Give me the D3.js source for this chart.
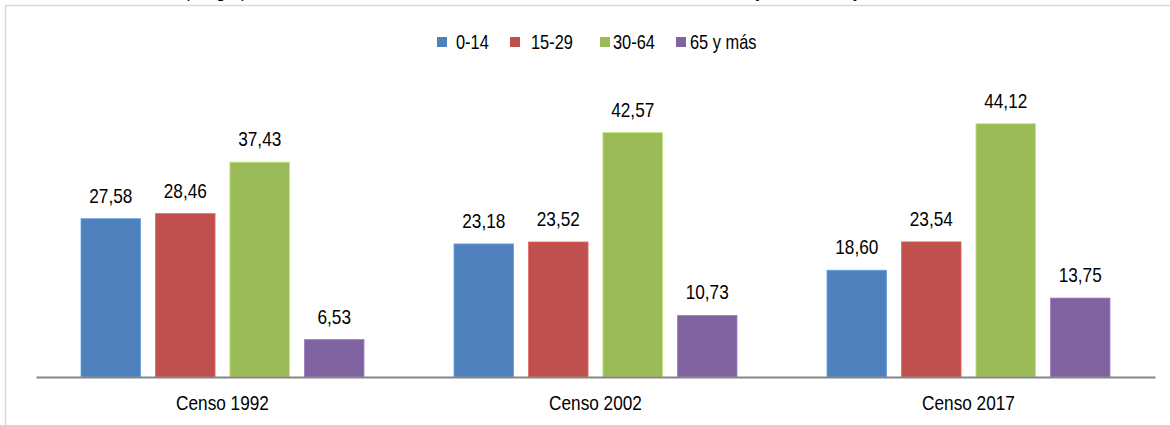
<!DOCTYPE html>
<html>
<head>
<meta charset="utf-8">
<script src="https://cdn.jsdelivr.net/npm/d3@7"></script>
<style>
  body { margin: 0; background: #fff; }
  svg { display: block; }
  text { font-family: "Liberation Sans", Arial, sans-serif; }
</style>
</head>
<body>
<div id="chart"></div>
<script>
// Data
var censos = ["Censo 1992", "Censo 2002", "Censo 2017"];
var grupos = ["0-14", "15-29", "30-64", "65 y más"];
var valores0a14 = [27.58, 23.18, 18.60];
var valores15a29 = [28.46, 23.52, 23.54];
var valores30a64 = [37.43, 42.57, 44.12];
var valores65mas = [6.53, 10.73, 13.75];
var colores = ["#4F81BD", "#C0504D", "#9BBB59", "#8064A2"];
var titulo = "Gráfico N° 1: Población por grupos de edad de cada censo de la comuna, censo 1992, censo 2002 y 2017, total y rural";

var series = [valores0a14, valores15a29, valores30a64, valores65mas];
var data = censos.map((c, i) => ({
  censo: c,
  valores: grupos.map((g, j) => ({ grupo: g, valor: series[j][i] }))
}));

// Chart size
var svgWidth = 1170;
var svgHeight = 425;
var margin = { top: 90, right: 15, bottom: 48, left: 36 };
var width = svgWidth - margin.left - margin.right;
var height = svgHeight - margin.top - margin.bottom;
var narrow = 0.82; // Arial Narrow look: squeeze Liberation Sans horizontally

var svg = d3.select("#chart").append("svg").attr("width", svgWidth).attr("height", svgHeight);

// title, cut off by the top edge as in the source
svg.append("text").attr("x", 5).attr("y", -2.5)
  .style("font-size", "17px").attr("fill", "#000").text(titulo);

// frame
svg.append("path").attr("d", "M5.5,425 V5.5 H1170").attr("fill", "none")
  .attr("stroke", "#d9d9d9").attr("stroke-width", 1.5);

var chartGroup = svg.append("g").attr("transform", `translate(${margin.left}, ${margin.top})`);

var x0 = d3.scaleBand().domain(censos).range([0, width]).padding(0);
var x1 = d3.scaleBand().domain(grupos).range([45, x0.bandwidth() - 45]).paddingInner(0.2).paddingOuter(0);
var y = d3.scaleLinear().domain([0, 50]).range([height, 0]);
var color = d3.scaleOrdinal().domain(grupos).range(colores);

var groups = chartGroup.selectAll(".censo").data(data).enter().append("g")
  .attr("class", "censo")
  .attr("transform", d => `translate(${x0(d.censo)},0)`);

groups.selectAll("rect").data(d => d.valores).enter().append("rect")
  .attr("x", d => x1(d.grupo))
  .attr("y", d => y(d.valor))
  .attr("width", x1.bandwidth())
  .attr("height", d => height - y(d.valor))
  .attr("fill", d => color(d.grupo))
  .attr("stroke", d => d3.color(color(d.grupo)).brighter(0.6))
  .attr("stroke-width", 0.8);

groups.selectAll("text.lbl").data(d => d.valores).enter().append("text")
  .attr("class", "lbl")
  .attr("transform", d => `translate(${x1(d.grupo) + x1.bandwidth() / 2}, ${y(d.valor) - 16}) scale(${narrow},1)`)
  .attr("text-anchor", "middle")
  .style("font-size", "21px")
  .attr("fill", "#000")
  .text(d => d3.format(".2f")(d.valor).replace(".", ","));

// x axis
var xAxis = chartGroup.append("g").attr("transform", `translate(0, ${height})`)
  .call(d3.axisBottom(x0).tickSize(0).tickPadding(18));
xAxis.select(".domain").attr("stroke", "#868686").attr("stroke-width", 2);
xAxis.selectAll("text").style("font-size", "21px").attr("fill", "#000")
  .style("font-family", "'Liberation Sans', Arial, sans-serif")
  .attr("transform", `scale(${narrow},1)`);

// legend (Excel spacing is a bit uneven)
var legendX = [437, 510, 600, 676];
var legendTextDx = [19, 21, 13, 14];
var legend = svg.selectAll(".leg").data(grupos).enter().append("g")
  .attr("class", "leg")
  .attr("transform", (d, i) => `translate(${legendX[i]}, 37)`);
legend.append("rect").attr("width", 10).attr("height", 10).attr("fill", d => color(d));
legend.append("text").attr("transform", (d, i) => `translate(${legendTextDx[i]}, 12) scale(${narrow},1)`)
  .style("font-size", "20px").attr("fill", "#000").text(d => d);
</script>
</body>
</html>
